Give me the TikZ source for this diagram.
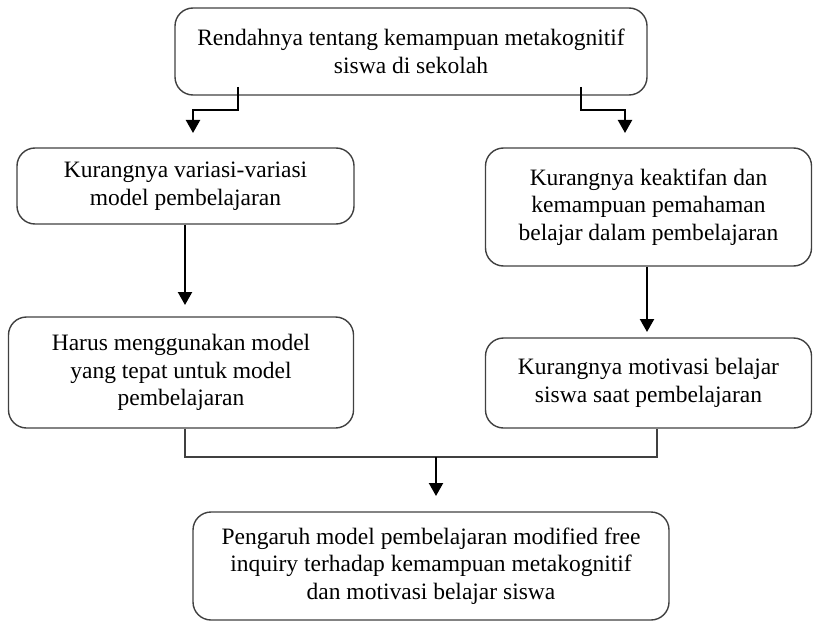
\documentclass[tikz,border=0pt]{standalone}
\usepackage{fontspec}
\setmainfont{Liberation Serif}
\usetikzlibrary{arrows.meta}
\begin{document}
\begin{tikzpicture}[x=1pt,y=-1pt,
  box/.style={draw=black!75,line width=1.4pt,rounded corners=18pt,align=center,
    font=\fontsize{23.5}{27.5}\selectfont,inner sep=0pt},
  arr/.style={line width=2.2pt,-{Triangle[width=14pt,length=13pt]}},
  joinline/.style={draw=black!75,line width=1.4pt}]
\useasboundingbox (0,0) rectangle (813,623);
\node[box,minimum width=472pt,minimum height=87pt] (top) at (411,51.5)
  {Rendahnya tentang kemampuan metakognitif\\siswa di sekolah};
\node[box,minimum width=337pt,minimum height=76pt] (l1) at (185.5,186)
  {Kurangnya variasi-variasi\\model pembelajaran};
\node[box,minimum width=345pt,minimum height=111pt] (l2) at (181,372.5)
  {Harus menggunakan model\\yang tepat untuk model\\pembelajaran};
\node[box,minimum width=326pt,minimum height=118pt] (r1) at (648.5,207)
  {Kurangnya keaktifan dan\\kemampuan pemahaman\\belajar dalam pembelajaran};
\node[box,minimum width=326pt,minimum height=90pt] (r2) at (648.5,383)
  {Kurangnya motivasi belajar\\siswa saat pembelajaran};
\node[box,minimum width=476pt,minimum height=108pt] (bot) at (431,566)
  {Pengaruh model pembelajaran modified free\\inquiry terhadap kemampuan metakognitif\\dan motivasi belajar siswa};
% top elbows
\coordinate (tl) at (238,87);
\coordinate (tlend) at (193,133);
\coordinate (tr) at (581,87);
\coordinate (trend) at (625,133);
\draw[arr] (tl) -- (238,110) -| (tlend);
\draw[arr] (tr) -- (581,110) -| (trend);
% vertical arrows
\coordinate (l1end) at (185,305);
\coordinate (r1end) at (647,332);
\draw[arr] (l1.south -| l1end) -- (l1end);
\draw[arr] (r1.south -| r1end) -- (r1end);
% bottom join
\coordinate (jl) at (185,457);
\coordinate (jr) at (657,457);
\coordinate (jm) at (436,457);
\coordinate (botend) at (436,496);
\draw[joinline] (l2.south -| jl) -- (jl) -- (jr) -- (r2.south -| jr);
\draw[arr] (jm) -- (botend);
\end{tikzpicture}
\end{document}
